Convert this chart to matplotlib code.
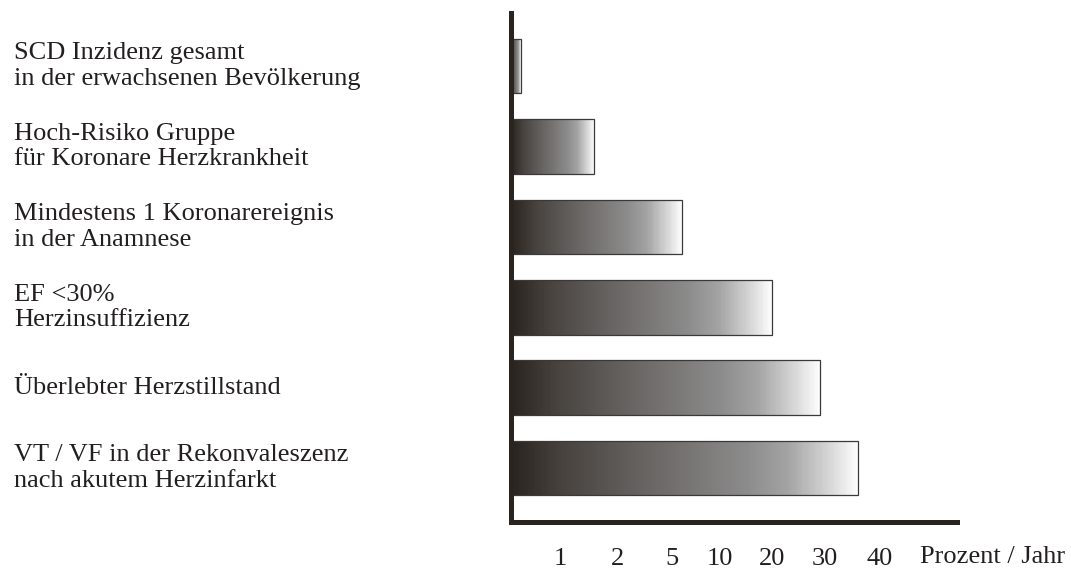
"""SCD incidence by risk group, horizontal gradient bars."""

import numpy as np
import matplotlib

matplotlib.use("Agg")
import matplotlib.pyplot as plt
from matplotlib.colors import LinearSegmentedColormap
from matplotlib.transforms import blended_transform_factory

# data
categories = [
    "SCD Inzidenz gesamt\nin der erwachsenen Bevölkerung",
    "Hoch-Risiko Gruppe\nfür Koronare Herzkrankheit",
    "Mindestens 1 Koronarereignis\nin der Anamnese",
    "EF <30%\nHerzinsuffizienz",
    "Überlebter Herzstillstand",
    "VT / VF in der Rekonvaleszenz\nnach akutem Herzinfarkt",
]
values = [0.2, 1.6, 6, 20, 29, 36]  # Prozent / Jahr
tick_values = [1, 2, 5, 10, 20, 30, 40]
tick_labels = ["1", "2", "5", "10", "20", "30", "40"]
unit_label = "Prozent / Jahr"

# the original axis is stretched piecewise (not linear, not log)
scale_vals = [0, 1, 2, 5, 10, 20, 30, 40, 54]
scale_pos = [0, 49, 106, 161, 209, 261, 314, 369, 446]


def forward(x):
    return np.interp(x, scale_vals, scale_pos)


def inverse(p):
    return np.interp(p, scale_pos, scale_vals)


INK = "#231f20"
FS = 19
plt.rcParams["font.family"] = ["Liberation Serif", "DejaVu Serif"]

grad = LinearSegmentedColormap.from_list(
    "bar_grad",
    [(0.0, "#2a2420"), (0.15, "#48433f"), (0.4, "#696664"),
     (0.68, "#8c8b8b"), (0.8, "#a3a3a3"), (0.92, "#d6d6d6"), (1.0, "#fcfcfc")],
)

fig = plt.figure(figsize=(10.71, 5.69), dpi=100)
ax = fig.add_axes([511 / 1071, 1 - 522 / 569, (957 - 511) / 1071, (522 - 13) / 569])
ax.set_xscale("function", functions=(forward, inverse))
ax.set_xlim(0, scale_vals[-1])
ax.set_ylim(5.67, -0.66)

bar_h = 0.68
ypos = np.arange(len(categories))
for y, v in zip(ypos, values):
    # gradient runs evenly along the drawn bar length
    xe = inverse(np.linspace(forward(0), forward(v), 201))
    ye = [y - bar_h / 2, y + bar_h / 2]
    c = np.linspace(0, 1, 200)[None, :]
    ax.pcolormesh(xe, ye, c, cmap=grad, vmin=0, vmax=1, shading="flat", zorder=2)
ax.barh(ypos, values, height=bar_h, facecolor="none", edgecolor="#3a3838",
        linewidth=0.9, zorder=3)

for side in ("top", "right"):
    ax.spines[side].set_visible(False)
for side in ("left", "bottom"):
    ax.spines[side].set_linewidth(3.6)
    ax.spines[side].set_color("#2a2420")
    ax.spines[side].set_zorder(4)
    ax.spines[side].set_capstyle("projecting")

ax.set_yticks([])
ax.set_xticks(tick_values)
ax.set_xticklabels(tick_labels)
ax.tick_params(axis="x", length=0, pad=18.5, labelsize=FS, labelcolor=INK)
ax.minorticks_off()

ax.text(0.917, -0.0806, unit_label, transform=ax.transAxes, ha="left",
        va="baseline", fontsize=FS, color=INK)

trans = blended_transform_factory(fig.transFigure, ax.transData)
for y, lab in zip(ypos, categories):
    fig.text(14 / 1071, y, lab, transform=trans, ha="left", va="center",
             fontsize=FS, color=INK, linespacing=1.2)

fig.savefig("out.png", dpi=100)
plt.close(fig)
